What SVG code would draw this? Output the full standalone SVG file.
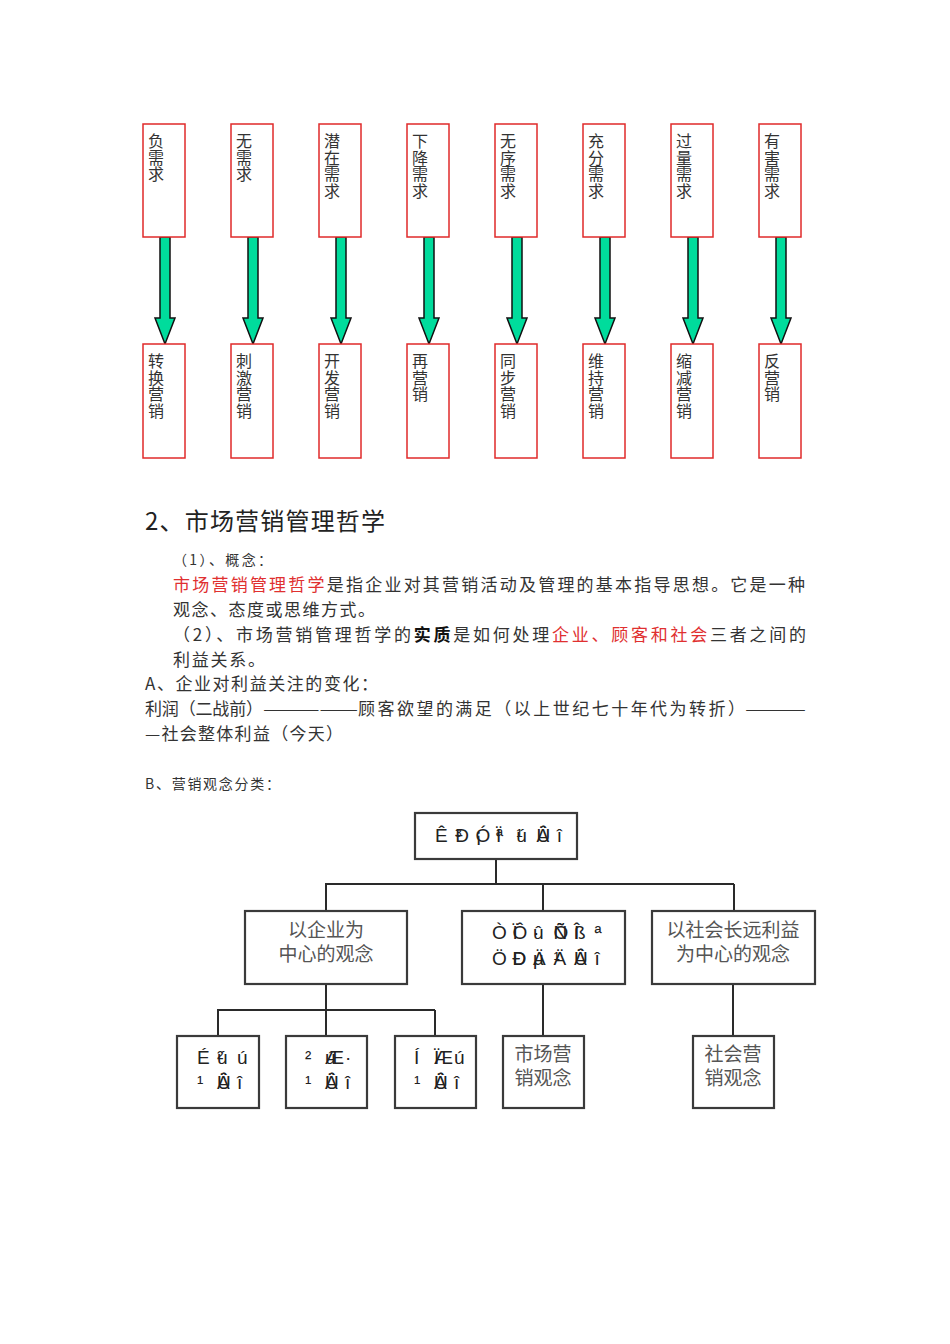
<svg xmlns="http://www.w3.org/2000/svg" width="950" height="1344" viewBox="0 0 950 1344">
<style>
.rb{fill:#fff;stroke:#e02a2a;stroke-width:1.5}
.vt{font-family:"Noto Sans CJK SC","Liberation Sans",sans-serif;font-size:16px;fill:#333}
.ar{fill:#00dc9c;stroke:#111;stroke-width:1.5;stroke-linejoin:miter}
.ob{fill:#fff;stroke:#3a3a3a;stroke-width:2.2}
.ol{fill:none;stroke:#2a2a2a;stroke-width:2}
.cj{font-family:"Noto Sans CJK SC","Liberation Sans",sans-serif;font-size:19px;fill:#555;text-anchor:middle}
.gb{font-family:"Liberation Sans",Arial,sans-serif;font-size:19px;fill:#222}
.p{font-family:"Noto Sans CJK SC","Liberation Serif",serif;font-size:17px;fill:#333}
.red{fill:#e03030}
</style>
<rect width="950" height="1344" fill="#fff"/>

<g id="connectors">
  <path class="ar" d="M160 237V318H155L165 344L175 318H170V237Z"/>
  <path class="ar" d="M248 237V318H243L253 344L263 318H258V237Z"/>
  <path class="ar" d="M336 237V318H331L341 344L351 318H346V237Z"/>
  <path class="ar" d="M424 237V318H419L429 344L439 318H434V237Z"/>
  <path class="ar" d="M512 237V318H507L517 344L527 318H522V237Z"/>
  <path class="ar" d="M600 237V318H595L605 344L615 318H610V237Z"/>
  <path class="ar" d="M688 237V318H683L693 344L703 318H698V237Z"/>
  <path class="ar" d="M776 237V318H771L781 344L791 318H786V237Z"/>
  <path class="ol" d="M496 859V884M325 884H734M326 884V911M543 884V911M734 884V911"/>
  <path class="ol" d="M326 984V1010M217 1010H435M218 1010V1036M326 1010V1036M435 1010V1036"/>
  <path class="ol" d="M543 984V1036M733 984V1036"/>
</g>

<g id="d1"><rect class="rb" x="143" y="124" width="42" height="113"/><text class="vt" x="148 148 148" y="147 163.7 180.4">负需求</text></g>
<g id="d2"><rect class="rb" x="231" y="124" width="42" height="113"/><text class="vt" x="236 236 236" y="147 163.7 180.4">无需求</text></g>
<g id="d3"><rect class="rb" x="319" y="124" width="42" height="113"/><text class="vt" x="324 324 324 324" y="147 163.7 180.4 197.1">潜在需求</text></g>
<g id="d4"><rect class="rb" x="407" y="124" width="42" height="113"/><text class="vt" x="412 412 412 412" y="147 163.7 180.4 197.1">下降需求</text></g>
<g id="d5"><rect class="rb" x="495" y="124" width="42" height="113"/><text class="vt" x="500 500 500 500" y="147 163.7 180.4 197.1">无序需求</text></g>
<g id="d6"><rect class="rb" x="583" y="124" width="42" height="113"/><text class="vt" x="588 588 588 588" y="147 163.7 180.4 197.1">充分需求</text></g>
<g id="d7"><rect class="rb" x="671" y="124" width="42" height="113"/><text class="vt" x="676 676 676 676" y="147 163.7 180.4 197.1">过量需求</text></g>
<g id="d8"><rect class="rb" x="759" y="124" width="42" height="113"/><text class="vt" x="764 764 764 764" y="147 163.7 180.4 197.1">有害需求</text></g>

<g id="m1"><rect class="rb" x="143" y="344" width="42" height="114"/><text class="vt" x="148 148 148 148" y="367 383.7 400.4 417.1">转换营销</text></g>
<g id="m2"><rect class="rb" x="231" y="344" width="42" height="114"/><text class="vt" x="236 236 236 236" y="367 383.7 400.4 417.1">刺激营销</text></g>
<g id="m3"><rect class="rb" x="319" y="344" width="42" height="114"/><text class="vt" x="324 324 324 324" y="367 383.7 400.4 417.1">开发营销</text></g>
<g id="m4"><rect class="rb" x="407" y="344" width="42" height="114"/><text class="vt" x="412 412 412" y="367 383.7 400.4">再营销</text></g>
<g id="m5"><rect class="rb" x="495" y="344" width="42" height="114"/><text class="vt" x="500 500 500 500" y="367 383.7 400.4 417.1">同步营销</text></g>
<g id="m6"><rect class="rb" x="583" y="344" width="42" height="114"/><text class="vt" x="588 588 588 588" y="367 383.7 400.4 417.1">维持营销</text></g>
<g id="m7"><rect class="rb" x="671" y="344" width="42" height="114"/><text class="vt" x="676 676 676 676" y="367 383.7 400.4 417.1">缩减营销</text></g>
<g id="m8"><rect class="rb" x="759" y="344" width="42" height="114"/><text class="vt" x="764 764 764" y="367 383.7 400.4">反营销</text></g>

<g id="body">
  <text class="p" x="145" y="530" style="font-size:24px;fill:#222" textLength="240" lengthAdjust="spacing">2、市场营销管理哲学</text>
  <text class="p" x="173" y="565" style="font-size:14px" textLength="99" lengthAdjust="spacing">（1）、概念：</text>
  <text class="p" x="173" y="591" textLength="632" lengthAdjust="spacing"><tspan class="red">市场营销管理哲学</tspan>是指企业对其营销活动及管理的基本指导思想。它是一种</text>
  <text class="p" x="173" y="616" textLength="202" lengthAdjust="spacing">观念、态度或思维方式。</text>
  <text class="p" x="173" y="641" textLength="633" lengthAdjust="spacing">（2）、市场营销管理哲学的<tspan font-weight="bold" fill="#111">实质</tspan>是如何处理<tspan class="red">企业、顾客和社会</tspan>三者之间的</text>
  <text class="p" x="173" y="666" textLength="92" lengthAdjust="spacing">利益关系。</text>
  <text class="p" x="145" y="690" textLength="233" lengthAdjust="spacing">A、企业对利益关注的变化：</text>
  <text class="p" x="145" y="715" textLength="118" lengthAdjust="spacing">利润（二战前）</text>
  <text class="p" x="263" y="715" textLength="95" lengthAdjust="spacingAndGlyphs">—————</text>
  <text class="p" x="358" y="715" textLength="387" lengthAdjust="spacing">顾客欲望的满足（以上世纪七十年代为转折）</text>
  <text class="p" x="745" y="715" textLength="61" lengthAdjust="spacingAndGlyphs">———</text>
  <text class="p" x="145" y="740" textLength="198" lengthAdjust="spacing">—社会整体利益（今天）</text>
  <text class="p" x="145" y="789" style="font-size:14px" textLength="135" lengthAdjust="spacing">B、营销观念分类：</text>
</g>

<g id="root"><rect class="ob" x="415" y="813" width="162" height="46"/>
  <text class="gb" x="435 455.3 455.3 475.6 475.6 495.9 495.9 516.2 516.2 536.5 536.5 556.8" y="842">ÊÐ³¡ÓªÏú¹ÛÄî</text></g>
<g id="c1"><rect class="ob" x="245" y="911" width="162" height="73"/>
  <text class="cj"><tspan x="326" y="937">以企业为</tspan><tspan x="326" y="961">中心的观念</tspan></text></g>
<g id="c2"><rect class="ob" x="462" y="911" width="163" height="73"/>
  <text class="gb"><tspan x="492 512.5 512.5 533 533 553.5 553.5 574 574 594.5" y="939">ÒÔÏû·ÑÕßÎª</tspan><tspan x="492 512.5 512.5 533 533 553.5 553.5 574 574 594.5" y="965">ÖÐÐÄµÄ¹ÛÄî</tspan></text></g>
<g id="c3"><rect class="ob" x="652" y="911" width="163" height="73"/>
  <text class="cj"><tspan x="733" y="937">以社会长远利益</tspan><tspan x="733" y="961">为中心的观念</tspan></text></g>
<g id="l1"><rect class="ob" x="177" y="1036" width="82" height="72"/>
  <text class="gb"><tspan x="197 217 217 237" y="1064">Éú²ú</tspan><tspan x="197 217 217 237" y="1089">¹ÛÄî</tspan></text></g>
<g id="l2"><rect class="ob" x="286" y="1036" width="81" height="72"/>
  <text class="gb"><tspan x="305 325 325 345" y="1064">²úÆ·</tspan><tspan x="305 325 325 345" y="1089">¹ÛÄî</tspan></text></g>
<g id="l3"><rect class="ob" x="395" y="1036" width="81" height="72"/>
  <text class="gb"><tspan x="414 434 434 454" y="1064">ÍÆÏú</tspan><tspan x="414 434 434 454" y="1089">¹ÛÄî</tspan></text></g>
<g id="l4"><rect class="ob" x="503" y="1036" width="81" height="72"/>
  <text class="cj"><tspan x="543" y="1061">市场营</tspan><tspan x="543" y="1085">销观念</tspan></text></g>
<g id="l5"><rect class="ob" x="693" y="1036" width="81" height="72"/>
  <text class="cj"><tspan x="733" y="1061">社会营</tspan><tspan x="733" y="1085">销观念</tspan></text></g>
</svg>
